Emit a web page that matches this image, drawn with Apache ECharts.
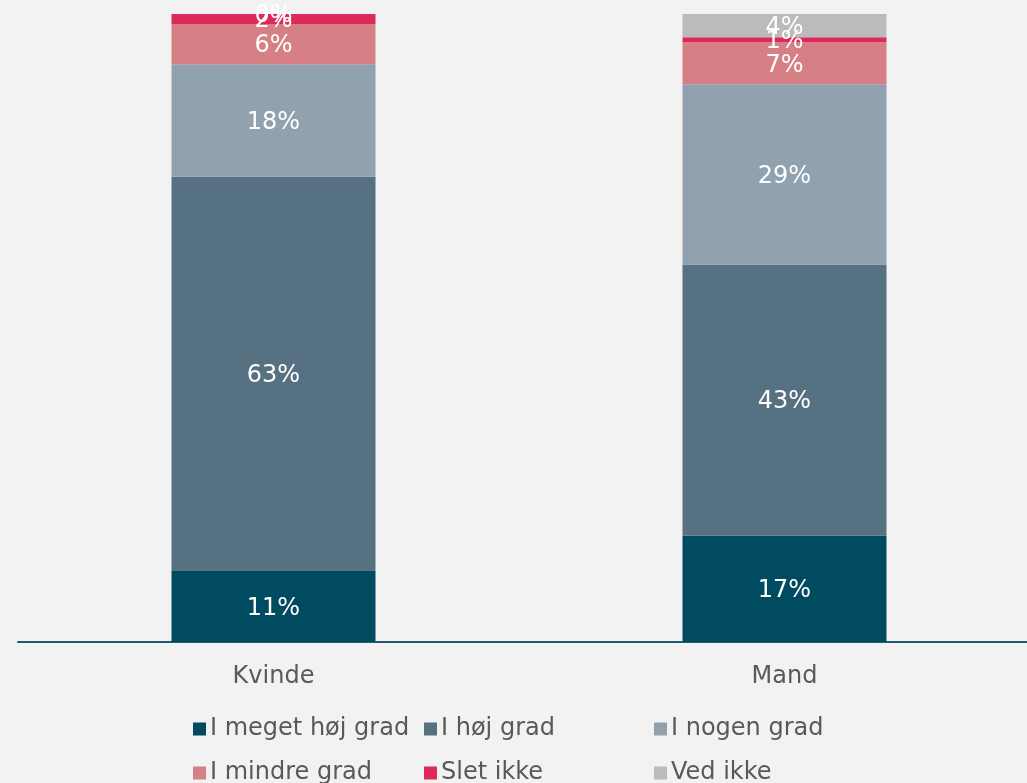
<!DOCTYPE html>
<html>
<head>
<meta charset="utf-8">
<script src="https://cdn.jsdelivr.net/npm/echarts@6/dist/echarts.min.js"></script>
<style>
html,body{margin:0;padding:0;background:#F2F2F2;}
#c{width:1027px;height:783px;}
</style>
</head>
<body>
<div id="c"></div>
<script>
const categories = ['Kvinde', 'Mand'];
const seriesNames = ['I meget høj grad', 'I høj grad', 'I nogen grad', 'I mindre grad', 'Slet ikke', 'Ved ikke'];
const meget = [11.3, 16.9];
const hoej = [62.8, 43.2];
const nogen = [17.9, 28.7];
const mindre = [6.4, 6.7];
const slet = [1.6, 0.8];
const vedIkke = [0.0, 3.8];
const colors = ['#004B60', '#557182', '#91A1AE', '#D68086', '#DD2A5B', '#BBBBBB'];

const values = [meget, hoej, nogen, mindre, slet, vedIkke];
const font = 'DejaVu Sans, Verdana, sans-serif';

const series = seriesNames.map((name, i) => ({
  name: name,
  type: 'bar',
  stack: 'total',
  barWidth: 204,
  itemStyle: { color: colors[i] },
  label: {
    show: true,
    position: 'inside',
    color: '#FFFFFF',
    fontFamily: font,
    fontSize: 24,
    offset: [0, 2],
    formatter: p => Math.round(p.value) + '%'
  },
  data: values[i]
}));

const legendPos = [
  [193, 717], [424, 717], [654, 717],
  [193, 761], [424, 761], [654, 761]
];
const legends = seriesNames.map((name, i) => ({
  data: [name],
  left: legendPos[i][0],
  top: legendPos[i][1],
  padding: 0,
  itemWidth: 13,
  itemHeight: 13,
  icon: 'rect',
  selectedMode: false,
  textStyle: { color: '#595959', fontFamily: font, fontSize: 24, lineHeight: 24, padding: [0, 0, 0, -1] }
}));

const chart = echarts.init(document.getElementById('c'), null, { renderer: 'canvas' });
chart.setOption({
  backgroundColor: '#F2F2F2',
  animation: false,
  grid: { left: 18, width: 1022, top: 14, height: 628, containLabel: false, outerBoundsMode: 'none' },
  legend: legends,
  xAxis: {
    type: 'category',
    data: categories,
    axisLine: { show: true, lineStyle: { color: '#1F5A70', width: 2 } },
    axisTick: { show: false },
    axisLabel: { color: '#595959', fontFamily: font, fontSize: 24, margin: 23 }
  },
  yAxis: {
    type: 'value',
    min: 0,
    max: 100,
    show: false,
    splitLine: { show: false }
  },
  series: series
});
</script>
</body>
</html>
